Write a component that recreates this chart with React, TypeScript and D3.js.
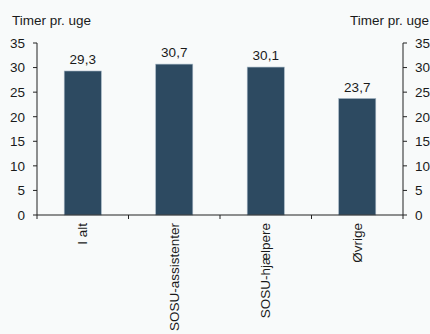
import React from "react";
import * as d3 from "d3";

const categories = ["I alt", "SOSU-assistenter", "SOSU-hjælpere", "Øvrige"];
const values = [29.3, 30.7, 30.1, 23.7];
const valueLabels = ["29,3", "30,7", "30,1", "23,7"];
const yTicks = [0, 5, 10, 15, 20, 25, 30, 35];
const axisTitle = "Timer pr. uge";

const W = 430;
const H = 334;
const left = 37;
const right = 403;
const top = 43;
const bottom = 215;
const font = "'Liberation Sans', Arial, sans-serif";
const fs = 13.5;

export default function App() {
  const x = d3.scaleBand<string>().domain(categories).range([left, right]).padding(0);
  const y = d3.scaleLinear().domain([0, 35]).range([bottom, top]);
  const barW = x.step() * 0.405;
  const edges = [...categories.map((c) => x(c) as number), right];

  return (
    <svg
      width={W}
      height={H}
      style={{ position: "fixed", left: 0, top: 0, background: "#f8fafa" }}
      fontFamily={font}
    >
      <rect x={0} y={0} width={W} height={H} fill="#f8fafa" />
      <text x={12} y={25} fontSize={fs} fill="#1a1a1a">{axisTitle}</text>
      <text x={429} y={25} fontSize={fs} fill="#1a1a1a" textAnchor="end">{axisTitle}</text>

      {categories.map((c, i) => {
        const bx = (x(c) as number) + (x.bandwidth() - barW) / 2;
        return (
          <g key={c}>
            <rect
              x={bx}
              y={y(values[i])}
              width={barW}
              height={bottom - y(values[i])}
              fill="#2d4a61"
              stroke="#9fb1c0"
              strokeWidth={0.6}
            />
            <text
              x={bx + barW / 2}
              y={y(values[i]) - 7}
              fontSize={fs}
              textAnchor="middle"
              fill="#1a1a1a"
            >
              {valueLabels[i]}
            </text>
            <text
              transform={`translate(${bx + barW / 2 + 4.5},223) rotate(-90)`}
              fontSize={fs}
              textAnchor="end"
              fill="#1a1a1a"
            >
              {c}
            </text>
          </g>
        );
      })}

      <line x1={left} x2={left} y1={y(35)} y2={bottom} stroke="#222" strokeWidth={1} />
      <line x1={right} x2={right} y1={y(35)} y2={bottom} stroke="#222" strokeWidth={1} />
      {yTicks.map((t) => (
        <g key={t}>
          <line x1={left - 4} x2={left} y1={y(t)} y2={y(t)} stroke="#222" />
          <text x={25} y={y(t)} dy="0.36em" fontSize={fs} textAnchor="end" fill="#1a1a1a">{t}</text>
          <line x1={right} x2={right + 4} y1={y(t)} y2={y(t)} stroke="#222" />
          <text x={415} y={y(t)} dy="0.36em" fontSize={fs} fill="#1a1a1a">{t}</text>
        </g>
      ))}
      <line x1={left} x2={right} y1={bottom} y2={bottom} stroke="#222" />
      {edges.map((e, i) => (
        <line key={i} x1={e} x2={e} y1={bottom} y2={bottom + 4} stroke="#222" />
      ))}
    </svg>
  );
}
